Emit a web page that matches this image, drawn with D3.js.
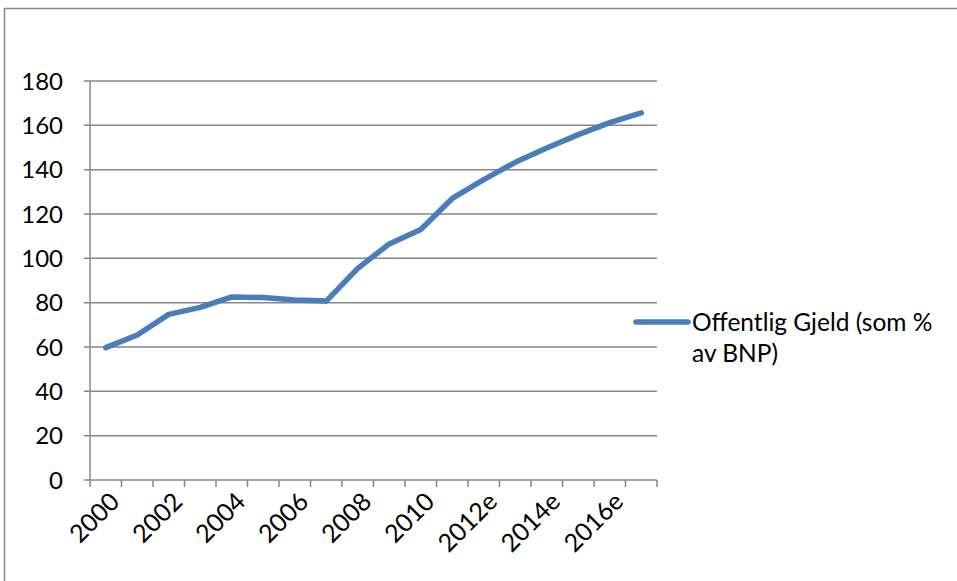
<!DOCTYPE html>
<html>
<head>
<meta charset="utf-8">
<script src="https://cdn.jsdelivr.net/npm/d3@7"></script>
<style>
  body { margin: 0; background: #fff; }
  text { font-family: Lato, "Open Sans", sans-serif; fill: #000; }
</style>
</head>
<body>
<div id="chart"></div>
<script>
var width = 957;
var height = 581;

var years = ['2000', '2001', '2002', '2003', '2004', '2005', '2006', '2007', '2008',
  '2009', '2010', '2011', '2012e', '2013e', '2014e', '2015e', '2016e', '2017e'];
var debt = [59.7, 65.4, 74.7, 77.9, 82.6, 82.3, 81.2, 80.7, 95.5,
  106.5, 113, 127, 135.5, 143.3, 149.8, 155.8, 161.2, 165.6];
var yTicks = [0, 20, 40, 60, 80, 100, 120, 140, 160, 180];
var seriesName = ['Offentlig Gjeld (som %', 'av BNP)'];

var svg = d3.select('#chart').append('svg')
  .attr('width', width).attr('height', height);

// chart frame
svg.append('rect')
  .attr('x', 4.5).attr('y', 8.5)
  .attr('width', 1000).attr('height', 700)
  .attr('fill', 'none').attr('stroke', '#888').attr('stroke-width', 1.5);

var x = d3.scaleBand().domain(years).range([90, 657]);
var y = d3.scaleLinear().domain([0, 180]).range([480, 81]);

var grid = '#878787';

// gridlines + y ticks
svg.append('g').selectAll('line')
  .data(yTicks)
  .enter().append('line')
  .attr('x1', 84).attr('x2', 657)
  .attr('y1', d => y(d)).attr('y2', d => y(d))
  .attr('stroke', grid).attr('stroke-width', 1.5);

svg.append('g').selectAll('text')
  .data(yTicks)
  .enter().append('text')
  .attr('x', 63).attr('y', d => y(d))
  .attr('dy', '0.36em')
  .attr('text-anchor', 'end')
  .style('font-size', '24px')
  .text(d => d);

// y axis line
svg.append('line')
  .attr('x1', 90).attr('x2', 90).attr('y1', 81).attr('y2', 480)
  .attr('stroke', grid).attr('stroke-width', 1.5);

// x ticks at category boundaries
var bounds = years.map(d => x(d)).concat([x.range()[1]]);
svg.append('g').selectAll('line')
  .data(bounds)
  .enter().append('line')
  .attr('x1', d => d).attr('x2', d => d)
  .attr('y1', 480).attr('y2', 487)
  .attr('stroke', grid).attr('stroke-width', 1.5);

// x labels, every other category
svg.append('g').selectAll('text')
  .data(years.filter((d, i) => i % 2 === 0))
  .enter().append('text')
  .attr('transform', d => `translate(${x(d) + x.bandwidth() / 2 + 9},${497}) rotate(-45)`)
  .attr('text-anchor', 'end')
  .attr('dy', '0.35em')
  .style('font-size', '25px')
  .text(d => d);

// series line
var line = d3.line()
  .x((d, i) => x(years[i]) + x.bandwidth() / 2)
  .y(d => y(d));

svg.append('path')
  .datum(debt)
  .attr('d', line)
  .attr('fill', 'none')
  .attr('stroke', '#4A7EBB')
  .attr('stroke-width', 5.5)
  .attr('stroke-linejoin', 'round')
  .attr('stroke-linecap', 'round');

// legend
svg.append('line')
  .attr('x1', 636).attr('x2', 688).attr('y1', 322).attr('y2', 322)
  .attr('stroke', '#4A7EBB').attr('stroke-width', 5.5)
  .attr('stroke-linecap', 'round');

svg.append('g').selectAll('text')
  .data(seriesName)
  .enter().append('text')
  .attr('x', 692).attr('y', (d, i) => 331 + i * 31)
  .style('font-size', '24.5px')
  .text(d => d);
</script>
</body>
</html>
